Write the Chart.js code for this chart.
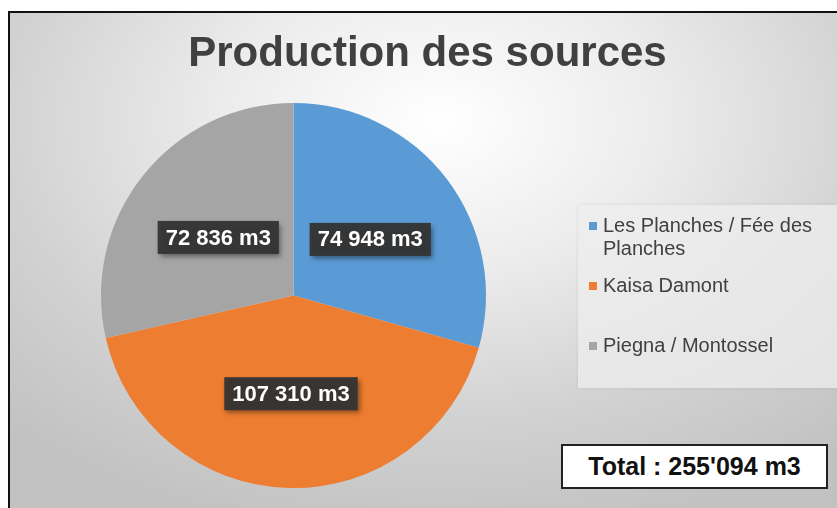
<!DOCTYPE html>
<html lang="fr">
<head>
  <meta charset="UTF-8" />
  <title>Production des sources</title>
  <script src="https://cdn.jsdelivr.net/npm/chart.js"></script>
  <style>
    body {
      margin: 0;
      background: #ffffff;
      font-family: "Liberation Sans", Arial, sans-serif;
    }
    .frame {
      position: absolute;
      left: 8px;
      top: 11px;
      width: 829px;
      height: 497px;
      border-top: 2px solid #111;
      border-left: 2px solid #111;
      box-sizing: border-box;
      background: radial-gradient(ellipse 75% 85% at 52% 22%, #ffffff 0%, #ececec 35%, #d2d2d2 70%, #c2c2c2 100%);
    }
    canvas {
      position: absolute;
      left: 0;
      top: 0;
    }
    .title {
      position: absolute;
      left: 0;
      width: 855px;
      top: 28px;
      text-align: center;
      font-size: 42px;
      font-weight: bold;
      color: #404040;
    }
    .legend {
      position: absolute;
      left: 578px;
      top: 205px;
      width: 259px;
      height: 183px;
      background: rgba(238, 238, 238, 0.75);
      box-shadow: 0 0 4px rgba(0, 0, 0, 0.08);
    }
    .legend-item {
      display: flex;
      align-items: flex-start;
      height: 60px;
      padding-left: 11px;
      font-size: 20px;
      line-height: 23px;
      color: #404040;
    }
    .legend-item:first-child { margin-top: 9px; }
    .legend-item span.mark {
      width: 8px;
      height: 8px;
      margin-top: 8px;
      margin-right: 6px;
      flex: none;
    }
    .total {
      position: absolute;
      left: 561px;
      top: 444px;
      width: 267px;
      height: 45px;
      box-sizing: border-box;
      border: 2px solid #222;
      background: #fff;
      font-size: 25px;
      font-weight: bold;
      color: #111;
      text-align: center;
      line-height: 41px;
    }
  </style>
</head>
<body>
  <div class="frame"></div>
  <canvas id="pieChart" width="837" height="508"></canvas>
  <div class="title">Production des sources</div>
  <div class="legend" id="legend"></div>
  <div class="total" id="total"></div>

  <script>
    // données (m3)
    const sources = ['Les Planches / Fée des Planches', 'Kaisa Damont', 'Piegna / Montossel'];
    const production = [74948, 107310, 72836];
    const couleurs = ['#5B9BD5', '#ED7D31', '#A5A5A5'];

    function fmt(n, sep) {
      return String(n).replace(/\B(?=(\d{3})+(?!\d))/g, sep);
    }

    const total = production.reduce((a, b) => a + b, 0);
    document.getElementById('total').textContent = 'Total : ' + fmt(total, "'") + ' m3';

    document.getElementById('legend').innerHTML = sources.map((s, i) =>
      `<div class="legend-item"><span class="mark" style="background:${couleurs[i]}"></span><span>${s}</span></div>`
    ).join('');

    // étiquettes dans des boîtes sombres
    const boxLabels = {
      id: 'boxLabels',
      afterDatasetsDraw(chart) {
        const ctx = chart.ctx;
        const meta = chart.getDatasetMeta(0);
        ctx.save();
        ctx.font = 'bold 22px "Liberation Sans", Arial, sans-serif';
        ctx.textAlign = 'center';
        ctx.textBaseline = 'middle';
        meta.data.forEach((arc, i) => {
          const p = arc.tooltipPosition();
          const txt = fmt(production[i], ' ') + ' m3';
          const w = ctx.measureText(txt).width + 16;
          const h = 33;
          ctx.shadowColor = 'rgba(0,0,0,0.45)';
          ctx.shadowBlur = 5;
          ctx.shadowOffsetX = 2;
          ctx.shadowOffsetY = 3;
          ctx.fillStyle = 'rgba(52,52,52,0.95)';
          ctx.fillRect(p.x - w / 2, p.y - h / 2 + 2, w, h);
          ctx.shadowColor = 'transparent';
          ctx.fillStyle = '#ffffff';
          ctx.fillText(txt, p.x, p.y + 3);
        });
        ctx.restore();
      }
    };

    new Chart(document.getElementById('pieChart'), {
      type: 'pie',
      data: {
        labels: sources,
        datasets: [{
          data: production,
          backgroundColor: couleurs,
          borderWidth: 0
        }]
      },
      options: {
        responsive: false,
        animation: false,
        layout: { padding: { left: 101, top: 103, right: 351, bottom: 20 } },
        plugins: {
          legend: { display: false },
          tooltip: { enabled: false }
        }
      },
      plugins: [boxLabels]
    });
  </script>
</body>
</html>
